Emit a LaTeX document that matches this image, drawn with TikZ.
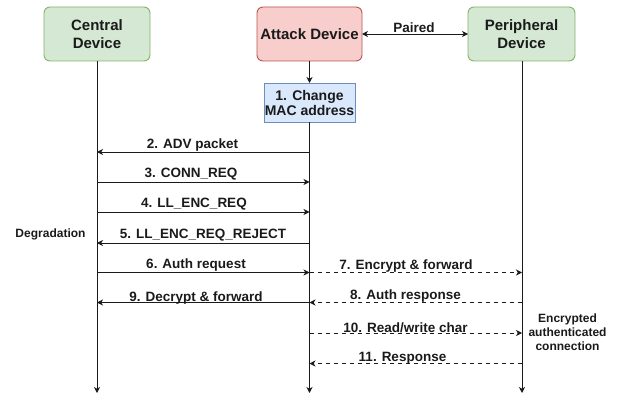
\documentclass[tikz,border=0pt]{standalone}
\usepackage{fontspec}
\setmainfont{Liberation Sans}
\usetikzlibrary{arrows.meta}
\definecolor{gfill}{HTML}{D5E8D4}
\definecolor{gdraw}{HTML}{82B366}
\definecolor{rfill}{HTML}{F8CECC}
\definecolor{rdraw}{HTML}{B85450}
\definecolor{bfill}{HTML}{DAE8FC}
\definecolor{bdraw}{HTML}{6C8EBF}
\definecolor{ink}{HTML}{1A1A1A}
\begin{document}
\begin{tikzpicture}[x=1pt,y=-1pt,
  every node/.style={text=ink, inner sep=0pt, outer sep=0pt},
  actor/.style={draw, line width=0.9pt, rounded corners=6pt, align=center,
    minimum width=106pt, minimum height=54pt,
    font=\fontsize{15}{17.5}\selectfont\bfseries},
  gbox/.style={actor, fill=gfill, draw=gdraw},
  rbox/.style={actor, fill=rfill, draw=rdraw},
  stepbox/.style={draw=bdraw, fill=bfill, line width=0.9pt, align=center,
    minimum width=91pt, minimum height=39pt,
    font=\fontsize{14}{15}\selectfont\bfseries},
  tipshape/.tip={Stealth[length=6pt,width=6pt,inset=1.8pt]},
  msg/.style={draw=ink, line width=0.9pt, -tipshape},
  dmsg/.style={msg, dash pattern=on 4pt off 4pt},
  lbl/.style={anchor=base, font=\fontsize{13.5}{15}\selectfont\bfseries},
  note/.style={align=center, font=\fontsize{12}{14}\selectfont\bfseries}
]
\useasboundingbox (0,0) rectangle (618,396);

% actors
\node[gbox] (central) at (97,34) {Central\\Device};
\node[rbox, minimum width=105pt] (attack) at (309.5,34) {Attack Device};
\node[gbox, minimum width=107pt] (periph) at (521.5,34) {Peripheral\\Device};
\node[stepbox] (mac) at (309.5,102.5) {1. Change\\MAC address};

% paired
\draw[msg, tipshape-tipshape] (attack.east) -- (periph.west);
\node[lbl] (paired) at (414,32.3) {Paired};

\draw[msg] (attack.south) -- (mac.north);

% lifelines
\coordinate (cend) at (97,393);
\coordinate (aend) at (309.5,393);
\coordinate (pend) at (522,393);
\draw[msg] (central.south -| cend) -- (cend);
\draw[msg] (mac.south) -- (aend);
\draw[msg] (periph.south -| pend) -- (pend);

% message endpoints
\foreach \n/\y in {2/152,3/182,4/212,5/243,6/272.5,8/302.5,10/333,11/363.5}{
  \coordinate (c\n) at (97,\y);
  \coordinate (a\n) at (309.5,\y);
  \coordinate (p\n) at (522,\y);
}

\draw[msg] (a2) -- (c2);
\node[lbl] (l2) at (192.5,148) {2. ADV packet};
\draw[msg] (c3) -- (a3);
\node[lbl] (l3) at (191,177.3) {3. CONN\_REQ};
\draw[msg] (c4) -- (a4);
\node[lbl] (l4) at (194,207.8) {4. LL\_ENC\_REQ};
\draw[msg] (a5) -- (c5);
\node[lbl] (l5) at (203,238.8) {5. LL\_ENC\_REQ\_REJECT};
\node[lbl, font=\fontsize{12}{14}\selectfont\bfseries] (deg) at (50.5,237.3) {Degradation};

\draw[msg] (c6) -- (a6);
\node[lbl] (l6) at (196,268.3) {6. Auth request};
\draw[dmsg] (a6) -- (p6);
\node[lbl] (l7) at (406,269) {7. Encrypt \& forward};
\draw[dmsg] (p8) -- (a8);
\node[lbl] (l8) at (405.5,299) {8. Auth response};
\draw[msg] (a8) -- (c8);
\node[lbl] (l9) at (196,301.5) {9. Decrypt \& forward};
\draw[dmsg] (a10) -- (p10);
\node[lbl] (l10) at (405.5,332) {10. Read/write char};
\draw[dmsg] (p11) -- (a11);
\node[lbl] (l11) at (402.5,361) {11. Response};

\node[note] (enc) at (567.5,332) {Encrypted\\authenticated\\connection};
\end{tikzpicture}
\end{document}
